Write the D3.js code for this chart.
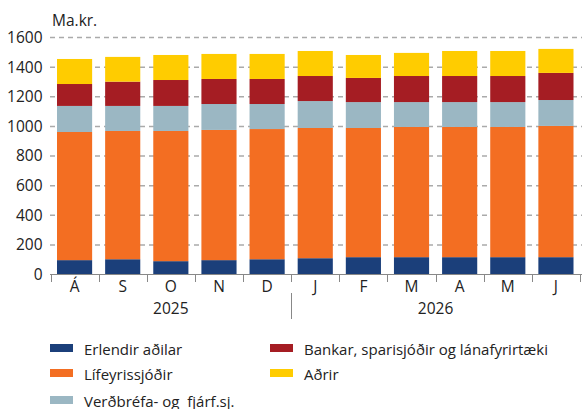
<!DOCTYPE html>
<html>
<head>
    <meta http-equiv="content-type" content="text/html; charset=utf-8" />
    <style>
        body { margin: 0; background: #fff; }
        svg text { font-family: "Open Sans", "Noto Sans", sans-serif; fill: #222; white-space: pre; }
    </style>
</head>
<body>
    <svg width="582" height="409"></svg>

    <script src="https://d3js.org/d3.v7.min.js"></script>
    <script>
        // gögn
        const months = ['Á', 'S', 'O', 'N', 'D', 'J', 'F', 'M', 'A', 'M', 'J']
        const years = [{ label: '2025', from: 0, to: 5 }, { label: '2026', from: 5, to: 11 }]
        const seriesNames = ['Erlendir aðilar', 'Lífeyrissjóðir', 'Verðbréfa- og  fjárf.sj.', 'Bankar, sparisjóðir og lánafyrirtæki', 'Aðrir']
        const colors = ['#1b3f7a', '#f36e22', '#9bb7c3', '#a51d23', '#ffcc00']

        const erlendir = [97, 103, 90, 97, 103, 110, 117, 117, 117, 117, 117]
        const lifeyris = [865, 866, 879, 879, 879, 879, 872, 879, 879, 879, 886]
        const verdbref = [176, 169, 169, 175, 169, 182, 175, 168, 168, 168, 175]
        const bankar = [148, 164, 175, 169, 169, 169, 163, 176, 176, 176, 183]
        const adrir = [169, 167, 169, 169, 169, 169, 155, 156, 169, 169, 162]
        const yTicks = [0, 200, 400, 600, 800, 1000, 1200, 1400, 1600]

        const series = [erlendir, lifeyris, verdbref, bankar, adrir]
        const rows = months.map((m, i) => {
            const r = { i: i }
            series.forEach((s, k) => { r['s' + k] = s[i] })
            return r
        })
        const stacked = d3.stack().keys(series.map((s, k) => 's' + k))(rows)

        const svg = d3.select('svg')
        const x = d3.scaleBand().domain(d3.range(months.length)).range([50.5, 580]).paddingInner(0.27).paddingOuter(0.135)
        const y = d3.scaleLinear().domain([0, 1600]).range([274.5, 37.5])

        // rásalínur
        svg.append('g')
            .selectAll('line')
            .data(yTicks.filter(d => d > 0))
            .join('line')
            .attr('x1', 50).attr('x2', 582)
            .attr('y1', d => y(d)).attr('y2', d => y(d))
            .attr('stroke', '#aaa')
            .attr('stroke-width', 1.5)
            .attr('stroke-dasharray', '5,4')

        // súlur
        svg.append('g')
            .selectAll('g')
            .data(stacked)
            .join('g')
            .attr('fill', (d, k) => colors[k])
            .selectAll('rect')
            .data(d => d)
            .join('rect')
            .attr('x', (d, i) => x(i))
            .attr('width', x.bandwidth())
            .attr('y', d => y(d[1]))
            .attr('height', d => y(d[0]) - y(d[1]))

        // y-ás
        const yAxis = svg.append('g')
            .attr('transform', 'translate(42.5,0)')
            .call(d3.axisLeft(y).tickValues(yTicks).tickFormat(d3.format('d')).tickSize(0).tickPadding(0))
        yAxis.select('.domain').remove()
        yAxis.selectAll('text')
            .style('font-size', '15.5px')
            .style('font-family', '"Open Sans", sans-serif')
            .attr('fill', '#222')

        svg.append('text')
            .attr('x', 52).attr('y', 26)
            .style('font-size', '15.5px')
            .text('Ma.kr.')

        // x-ás
        const step = x.step()
        const boundaries = d3.range(months.length + 1).map(i => x.range()[0] + i * step)
        svg.append('line')
            .attr('x1', 50).attr('x2', 582)
            .attr('y1', 274.5).attr('y2', 274.5)
            .attr('stroke', '#888')
            .attr('stroke-width', 1)
        svg.append('g')
            .selectAll('line')
            .data(boundaries)
            .join('line')
            .attr('x1', d => Math.round(d) + 0.5).attr('x2', d => Math.round(d) + 0.5)
            .attr('y1', 274.5).attr('y2', 282)
            .attr('stroke', '#888')

        svg.append('g')
            .selectAll('text')
            .data(months)
            .join('text')
            .attr('x', (d, i) => x(i) + x.bandwidth() / 2)
            .attr('y', 292)
            .attr('text-anchor', 'middle')
            .style('font-size', '15.5px')
            .text(d => d)

        svg.append('g')
            .selectAll('text')
            .data(years)
            .join('text')
            .attr('x', d => (boundaries[d.from] + boundaries[d.to]) / 2)
            .attr('y', 314)
            .attr('text-anchor', 'middle')
            .style('font-size', '15.5px')
            .text(d => d.label)

        svg.append('line')
            .attr('x1', Math.round(boundaries[5]) + 0.5).attr('x2', Math.round(boundaries[5]) + 0.5)
            .attr('y1', 293).attr('y2', 319)
            .attr('stroke', '#888')

        // skýringar
        const legendPos = [[50, 355], [50, 380], [50, 407], [270, 355], [270, 380]]
        const legend = svg.append('g')
            .selectAll('g')
            .data(seriesNames)
            .join('g')
            .attr('transform', (d, k) => `translate(${legendPos[k][0]},${legendPos[k][1]})`)
        legend.append('rect')
            .attr('x', 0).attr('y', -11)
            .attr('width', 23).attr('height', 8)
            .attr('fill', (d, k) => colors[k])
        legend.append('text')
            .attr('x', 34).attr('y', 0)
            .style('font-size', '15px')
            .text(d => d)
    </script>
</body>
</html>
